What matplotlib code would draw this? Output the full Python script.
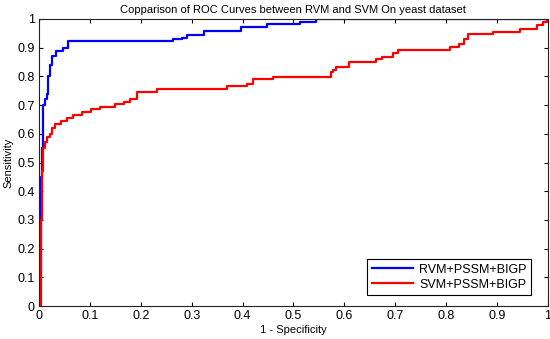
import numpy as np
import matplotlib
matplotlib.use("Agg")
import matplotlib.pyplot as plt

plt.rcParams['font.family'] = ['Liberation Sans', 'DejaVu Sans']

# ROC points (step curves)
rvm_fpr = [0.0, 0.002, 0.003, 0.005, 0.007, 0.012, 0.015, 0.018, 0.022, 0.026,
           0.034, 0.047, 0.057, 0.264, 0.281, 0.29, 0.325, 0.396, 0.449, 0.512,
           0.544, 1.0]
rvm_tpr = [0.0, 0.10, 0.45, 0.55, 0.70, 0.72, 0.74, 0.80, 0.84, 0.87,
           0.89, 0.90, 0.924, 0.93, 0.935, 0.945, 0.958, 0.973, 0.982, 0.99,
           1.0, 1.0]

svm_fpr = [0.0, 0.004, 0.006, 0.008, 0.012, 0.015, 0.021, 0.026, 0.031, 0.044,
           0.054, 0.067, 0.084, 0.103, 0.12, 0.149, 0.166, 0.179, 0.192, 0.232,
           0.37, 0.409, 0.42, 0.46, 0.573, 0.578, 0.583, 0.61, 0.662, 0.675,
           0.695, 0.705, 0.807, 0.826, 0.836, 0.843, 0.892, 0.945, 0.978, 0.99,
           0.998, 1.0]
svm_tpr = [0.0, 0.30, 0.47, 0.55, 0.57, 0.59, 0.60, 0.62, 0.635, 0.645,
           0.655, 0.665, 0.675, 0.685, 0.695, 0.705, 0.71, 0.72, 0.745, 0.755,
           0.765, 0.775, 0.79, 0.799, 0.815, 0.822, 0.834, 0.851, 0.859, 0.869,
           0.883, 0.892, 0.904, 0.912, 0.929, 0.947, 0.954, 0.964, 0.98, 0.99,
           1.0, 1.0]

labels = ['RVM+PSSM+BIGP', 'SVM+PSSM+BIGP']
ticklabels = ['0', '0.1', '0.2', '0.3', '0.4', '0.5', '0.6', '0.7', '0.8', '0.9', '1']

fig = plt.figure(figsize=(5.5, 3.39), dpi=100)
ax = fig.add_axes([0.071, 0.097, 0.925, 0.847])

ax.plot(rvm_fpr, rvm_tpr, color='#0000ff', lw=1.6, drawstyle='steps-post', label=labels[0])
ax.plot(svm_fpr, svm_tpr, color='#ff0000', lw=1.6, drawstyle='steps-post', label=labels[1])

ax.set_xlim(0, 1)
ax.set_ylim(0, 1)
ax.set_xticks(np.arange(0, 1.01, 0.1))
ax.set_yticks(np.arange(0, 1.01, 0.1))
ax.set_xticklabels(ticklabels)
ax.set_yticklabels(ticklabels)
ax.tick_params(direction='in', top=True, right=True, length=3, labelsize=9, pad=3)
for s in ax.spines.values():
    s.set_linewidth(0.8)
    s.set_color('#222222')

ax.set_title('Copparison of ROC Curves between RVM and SVM On yeast dataset', fontsize=8, pad=4)
ax.set_xlabel('1 - Specificity', fontsize=8, labelpad=2)
ax.set_ylabel('Sensitivity', fontsize=8, labelpad=3)

leg = ax.legend(loc='lower right', bbox_to_anchor=(0.967, 0.038), fontsize=9,
                fancybox=False, edgecolor='black', framealpha=1, borderaxespad=0,
                handlelength=3.3, borderpad=0.35, labelspacing=0.25, handletextpad=0.5)
leg.get_frame().set_linewidth(0.8)

fig.savefig('out.png', dpi=100)
